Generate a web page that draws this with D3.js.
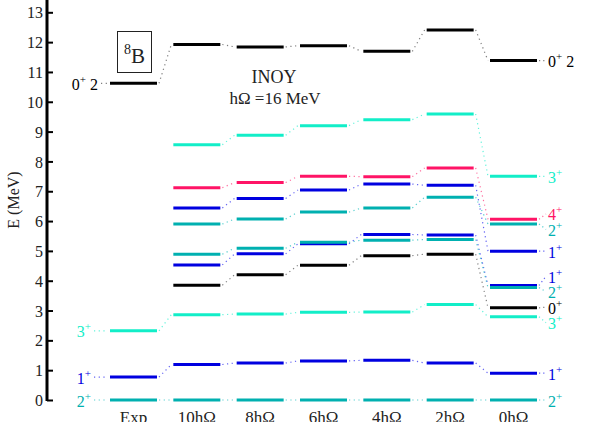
<!DOCTYPE html>
<html>
<head>
<meta charset="utf-8">
<script src="https://cdn.jsdelivr.net/npm/d3@7"></script>
<style>
  html, body { margin: 0; padding: 0; background: #fff; }
  svg { display: block; }
</style>
</head>
<body>
<script>
// ---------------- data ----------------
const columns = ["Exp", "10hΩ", "8hΩ", "6hΩ", "4hΩ", "2hΩ", "0hΩ"];
// state identity (spin J, parity +), and isospin tag for the T=2 state
const stateSpin    = [2, 1, 3, 0, 1, 2, 2, 1, 4, 3, 0];
const stateIsospin = ["", "", "", "", "", "", "", "", "", "", "2"];
// energies (MeV) per column, same state order; null = not present
const expE = [0, 0.77, 2.32, null, null, null, null, null, null, null, 10.62];
const n10E = [0, 1.19, 2.86, 3.85, 4.53, 4.89, 5.90, 6.44, 7.12, 8.56, 11.92];
const n8E  = [0, 1.24, 2.88, 4.20, 4.90, 5.09, 6.07, 6.76, 7.29, 8.88, 11.84];
const n6E  = [0, 1.31, 2.94, 4.52, 5.24, 5.29, 6.30, 7.04, 7.50, 9.20, 11.88];
const n4E  = [0, 1.33, 2.95, 4.84, 5.55, 5.36, 6.44, 7.24, 7.49, 9.40, 11.69];
const n2E  = [0, 1.24, 3.20, 4.89, 5.53, 5.38, 6.80, 7.20, 7.78, 9.59, 12.41];
const n0E  = [0, 0.90, 2.79, 3.09, 3.84, 3.77, 5.90, 4.99, 6.06, 7.50, 11.38];
const yTicks = [0, 1, 2, 3, 4, 5, 6, 7, 8, 9, 10, 11, 12, 13];
const nucleusMass = "8", nucleusName = "B";
const titleLines = ["INOY", "hΩ =16 MeV"];
const yTitle = "E (MeV)";

const spinColor = { 0: "#000000", 1: "#0000E0", 2: "#00B0B0", 3: "#12EEC8", 4: "#FF1466" };
const connColor = { 0: "#555555", 1: "#3030F0", 2: "#20C0C0", 3: "#30F0D0", 4: "#FF4080" };

const table = [expE, n10E, n8E, n6E, n4E, n2E, n0E];

// ---------------- layout ----------------
const W = 590, H = 422;
const svg = d3.select("body").append("svg")
  .attr("width", W).attr("height", H)
  .style("font-family", "'Liberation Serif','Times New Roman',serif");

const y = d3.scaleLinear().domain([0, 13]).range([400, 12.3]);
const x = d3.scalePoint().domain(columns).range([133.5, 513.5]);
const half = 23.5;
const axisX = 47;

// ---------------- axis ----------------
const axis = d3.axisLeft(y).tickValues(yTicks).tickSizeInner(-6).tickSizeOuter(0).tickPadding(4);
const gA = svg.append("g").attr("transform", `translate(${axisX},0)`).call(axis);
gA.select(".domain").remove();
gA.selectAll(".tick line").attr("stroke", "#000").attr("stroke-width", 2);
gA.selectAll(".tick text").attr("font-size", 16).attr("font-family", "'Liberation Serif','Times New Roman',serif").attr("fill", "#222").attr("dy", "0.35em");
svg.append("line").attr("x1", axisX).attr("x2", axisX).attr("y1", 0).attr("y2", 401)
  .attr("stroke", "#000").attr("stroke-width", 3);

svg.append("text")
  .attr("transform", `translate(19,200) rotate(-90)`)
  .attr("text-anchor", "middle").attr("font-size", 16).attr("fill", "#222")
  .text(yTitle);

// ---------------- connectors ----------------
const gConn = svg.append("g");
for (let c = 0; c < columns.length - 1; c++) {
  stateSpin.forEach((J, s) => {
    const a = table[c][s], b = table[c + 1][s];
    if (a == null || b == null) return;
    gConn.append("line")
      .attr("x1", x(columns[c]) + half + 2).attr("y1", y(a))
      .attr("x2", x(columns[c + 1]) - half - 2).attr("y2", y(b))
      .attr("stroke", connColor[J]).attr("stroke-width", 1.2)
      .attr("stroke-dasharray", "1.2,3.5").attr("opacity", 0.75);
  });
}

// ---------------- levels ----------------
const gLev = svg.append("g");
columns.forEach((col, c) => {
  stateSpin.forEach((J, s) => {
    const e = table[c][s];
    if (e == null) return;
    gLev.append("line")
      .attr("x1", x(col) - half).attr("x2", x(col) + half)
      .attr("y1", y(e)).attr("y2", y(e))
      .attr("stroke", spinColor[J]).attr("stroke-width", 3);
  });
});

// ---------------- state labels ----------------
function addLabel(g, xPos, yPos, J, iso, anchor) {
  const t = g.append("text").attr("x", xPos).attr("y", yPos + 6.5)
    .attr("text-anchor", anchor).attr("font-size", 16).attr("fill", spinColor[J]);
  t.append("tspan").text(String(J));
  t.append("tspan").attr("font-size", 11).attr("dy", -7).text("+");
  if (iso) t.append("tspan").attr("dy", 7).text(" " + iso);
  return t;
}

// dodge label positions so they do not overlap
function dodge(ys, gap) {
  let items = ys.map((v, i) => ({ i, target: v })).sort((a, b) => a.target - b.target);
  let clusters = items.map(it => ({ members: [it], pos: it.target }));
  let changed = true;
  while (changed) {
    changed = false;
    for (let k = 0; k < clusters.length - 1; k++) {
      const A = clusters[k], B = clusters[k + 1];
      const aEnd = A.pos + (A.members.length - 1) * gap;
      if (B.pos - aEnd < gap) {
        const members = A.members.concat(B.members);
        const mean = d3.mean(members, (m, j) => m.target - j * gap);
        clusters.splice(k, 2, { members, pos: mean });
        changed = true;
        break;
      }
    }
  }
  const out = new Array(ys.length);
  clusters.forEach(cl => cl.members.forEach((m, j) => { out[m.i] = cl.pos + j * gap; }));
  return out;
}

const gLab = svg.append("g");
// Experimental column labels (left)
const xExpL = x("Exp") - half;
stateSpin.forEach((J, s) => {
  const e = expE[s];
  if (e == null) return;
  const iso = stateIsospin[s];
  const right = iso ? xExpL - 12 : xExpL - 19;
  addLabel(gLab, right, y(e), J, iso, "end");
  gLab.append("line").attr("x1", right + 3).attr("x2", xExpL - 2)
    .attr("y1", y(e)).attr("y2", y(e))
    .attr("stroke", connColor[J]).attr("stroke-width", 1.2)
    .attr("stroke-dasharray", "1.2,3.5").attr("opacity", 0.75);
});

// 0hΩ column labels (right)
const xR = x("0hΩ") + half;
const ly = dodge(n0E.map(e => y(e)), 15.5);
stateSpin.forEach((J, s) => {
  const e = n0E[s];
  addLabel(gLab, xR + 11, ly[s], J, stateIsospin[s], "start");
  gLab.append("line").attr("x1", xR + 2).attr("x2", xR + 9)
    .attr("y1", y(e)).attr("y2", ly[s])
    .attr("stroke", connColor[J]).attr("stroke-width", 1.2)
    .attr("stroke-dasharray", "1.2,3").attr("opacity", 0.75);
});

// ---------------- column names ----------------
svg.append("g").selectAll("text").data(columns).join("text")
  .attr("x", d => x(d)).attr("y", 423)
  .attr("text-anchor", "middle").attr("font-size", 17).attr("fill", "#222")
  .text(d => d);

// ---------------- nucleus box & title ----------------
svg.append("rect").attr("x", 117.5).attr("y", 31.5).attr("width", 34).attr("height", 41)
  .attr("fill", "none").attr("stroke", "#222").attr("stroke-width", 1);
const nb = svg.append("text").attr("x", 134.5).attr("y", 63).attr("text-anchor", "middle")
  .attr("font-size", 21).attr("fill", "#222");
nb.append("tspan").attr("font-size", 14).attr("dy", -9).text(nucleusMass);
nb.append("tspan").attr("dy", 9).text(nucleusName);

svg.append("text").attr("x", 274).attr("y", 83).attr("text-anchor", "middle")
  .attr("font-size", 18).attr("fill", "#222").text(titleLines[0]);
svg.append("text").attr("x", 275).attr("y", 104).attr("text-anchor", "middle")
  .attr("font-size", 17).attr("fill", "#222").text(titleLines[1]);
</script>
</body>
</html>
